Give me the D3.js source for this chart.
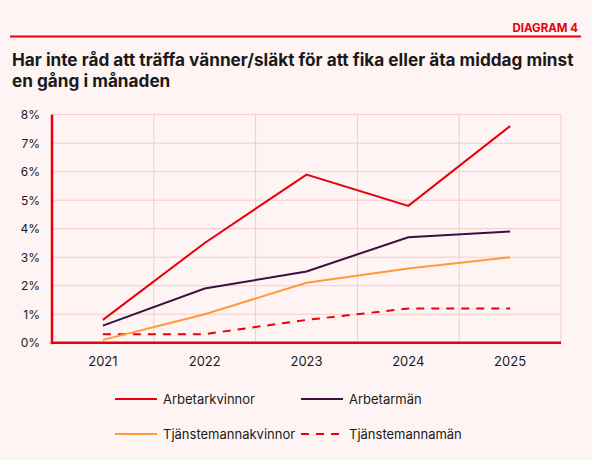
<!DOCTYPE html>
<html>
<head>
<meta charset="utf-8">
<script src="https://cdn.jsdelivr.net/npm/d3@7"></script>
<style>
  html, body { margin: 0; padding: 0; background: #fff4f4; }
  svg { display: block; font-family: "Inter", "Noto Sans", sans-serif; }
</style>
</head>
<body>
<svg id="chart" width="592" height="460"></svg>
<script>
var YEARS = ["2021", "2022", "2023", "2024", "2025"];
var ARBETARKVINNOR = [0.8, 3.5, 5.9, 4.8, 7.6];
var ARBETARMAN = [0.6, 1.9, 2.5, 3.7, 3.9];
var TJANSTEMANNAKVINNOR = [0.1, 1.0, 2.1, 2.6, 3.0];
var TJANSTEMANNAMAN = [0.3, 0.3, 0.8, 1.2, 1.2];
var YTICKS = [0, 1, 2, 3, 4, 5, 6, 7, 8];

(function() {
"use strict";

var RED = "#e8000b";
var PURPLE = "#3a1040";
var ORANGE = "#ff9a3a";
var GRID = "#f8c9c9";
var TEXT = "#1a1a1a";

var series = [
    {name: "Arbetarkvinnor", values: ARBETARKVINNOR, color: RED, dash: null},
    {name: "Arbetarmän", values: ARBETARMAN, color: PURPLE, dash: null},
    {name: "Tjänstemannakvinnor", values: TJANSTEMANNAKVINNOR, color: ORANGE, dash: null},
    {name: "Tjänstemannamän", values: TJANSTEMANNAMAN, color: RED, dash: "8,7"}
];

var svg = d3.select("#chart");
svg.append("rect").attr("width", 592).attr("height", 460).attr("fill", "#fff4f4");

// header
svg.append("text")
    .attr("x", 578).attr("y", 32)
    .attr("text-anchor", "end")
    .attr("fill", RED)
    .attr("font-size", 11.5).attr("font-weight", 700)
    .text("DIAGRAM 4");
svg.append("line")
    .attr("x1", 10).attr("x2", 581).attr("y1", 36.5).attr("y2", 36.5)
    .attr("stroke", RED).attr("stroke-width", 2);

var title = svg.append("text")
    .attr("fill", TEXT).attr("font-size", 17.2).attr("font-weight", 700);
title.append("tspan").attr("x", 12).attr("y", 66)
    .text("Har inte råd att träffa vänner/släkt för att fika eller äta middag minst");
title.append("tspan").attr("x", 12).attr("y", 87)
    .text("en gång i månaden");

var pLeft = 52, pRight = 561, pTop = 114.7, pBottom = 342.7;

var x = d3.scaleBand().domain(YEARS).range([pLeft, pRight]).padding(0);
var y = d3.scaleLinear().domain([0, 8]).range([pBottom, pTop]);
var cx = function(d) { return x(d) + x.bandwidth() / 2; };

var grid = svg.append("g");
grid.selectAll("line.h")
    .data(YTICKS.slice(1))
    .enter().append("line")
        .attr("x1", pLeft).attr("x2", pRight)
        .attr("y1", function(d) { return y(d); })
        .attr("y2", function(d) { return y(d); })
        .attr("stroke", GRID).attr("stroke-width", 1);
grid.selectAll("line.v")
    .data(YEARS)
    .enter().append("line")
        .attr("x1", function(d) { return x(d) + x.bandwidth(); })
        .attr("x2", function(d) { return x(d) + x.bandwidth(); })
        .attr("y1", pTop).attr("y2", pBottom)
        .attr("stroke", GRID).attr("stroke-width", 1);

// y axis labels
var yaxis = svg.append("g")
    .attr("transform", "translate(" + pLeft + ",0)")
    .call(d3.axisLeft(y).tickValues(YTICKS).tickSize(0).tickPadding(12)
        .tickFormat(function(d) { return d + "%"; }));
yaxis.select(".domain").remove();
yaxis.selectAll("text").attr("font-size", 12).attr("fill", TEXT)
    .attr("font-family", "Inter, 'Noto Sans', sans-serif");

// x axis labels
var xaxis = svg.append("g")
    .attr("transform", "translate(0," + pBottom + ")")
    .call(d3.axisBottom(x).tickSize(0).tickPadding(14));
xaxis.select(".domain").remove();
xaxis.selectAll("text").attr("font-size", 13).attr("fill", TEXT)
    .attr("font-family", "Inter, 'Noto Sans', sans-serif");

// axis lines
svg.append("line")
    .attr("x1", pLeft).attr("x2", pLeft).attr("y1", pTop).attr("y2", pBottom + 1.5)
    .attr("stroke", RED).attr("stroke-width", 2.5);
svg.append("line")
    .attr("x1", pLeft - 1.2).attr("x2", pRight).attr("y1", pBottom).attr("y2", pBottom)
    .attr("stroke", RED).attr("stroke-width", 2.5);

var line = d3.line()
    .x(function(d, i) { return cx(YEARS[i]); })
    .y(function(d) { return y(d); });

svg.append("g").selectAll("path")
    .data(series.slice().reverse())
    .enter().append("path")
        .attr("fill", "none")
        .attr("stroke", function(d) { return d.color; })
        .attr("stroke-width", 2)
        .attr("stroke-dasharray", function(d) { return d.dash; })
        .attr("d", function(d) { return line(d.values); });

// legend
var legendPos = [[115, 399], [301, 399], [115, 434], [301, 434]];
var lg = svg.append("g").selectAll("g")
    .data(series)
    .enter().append("g")
        .attr("transform", function(d, i) { return "translate(" + legendPos[i][0] + "," + legendPos[i][1] + ")"; });
lg.append("line")
    .attr("x1", 0).attr("x2", 42).attr("y1", 0).attr("y2", 0)
    .attr("stroke", function(d) { return d.color; })
    .attr("stroke-width", 2)
    .attr("stroke-dasharray", function(d) { return d.dash; });
lg.append("text")
    .attr("x", 48).attr("y", 4.5)
    .attr("font-size", 13).attr("fill", TEXT)
    .text(function(d) { return d.name; });
}());
</script>
</body>
</html>
